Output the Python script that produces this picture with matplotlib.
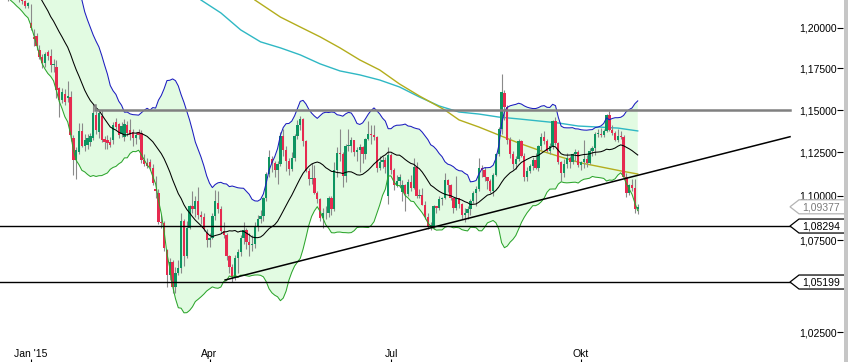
import numpy as np
import matplotlib
matplotlib.use('Agg')
import matplotlib.pyplot as plt
import matplotlib.transforms as mtransforms
from matplotlib.patches import Polygon, Rectangle
from matplotlib.ticker import NullLocator

plt.rcParams['font.family'] = ['Liberation Sans', 'DejaVu Sans']

# trading-day index of first row (Nov 20 2014), Jan 1 2015 = 0
first_index = -30

opens = [
    # Nov 2014 (20-28)
    1.2540, 1.2545, 1.2390, 1.2440, 1.2475, 1.2505, 1.2470,
    # Dec 2014
    1.2450, 1.2470, 1.2380, 1.2310, 1.2380, 1.2290, 1.2300, 1.2380, 1.2440, 1.2420, 1.2460, 1.2440,
    1.2500, 1.2340, 1.2290, 1.2230, 1.2225, 1.2200, 1.2210, 1.2215, 1.2190, 1.2175, 1.2165,
    # Jan
    1.2135, 1.2030, 1.1945, 1.1950, 1.1863, 1.1822, 1.1784, 1.1851, 1.1827, 1.1772, 1.1760, 1.1632,
    1.1560, 1.1595, 1.1572, 1.1578, 1.1335, 1.1206, 1.1253, 1.1376, 1.1290, 1.1294,
    # Feb
    1.1310, 1.1335, 1.1470, 1.1370, 1.1465, 1.1328, 1.1323, 1.1311, 1.1323, 1.1429, 1.1417, 1.1358,
    1.1340, 1.1411, 1.1382, 1.1370, 1.1335, 1.1370, 1.1364, 1.1206,
    # Mar
    1.1190, 1.1195, 1.1160, 1.1040, 1.1016, 1.0850, 1.0846, 1.0696, 1.0560, 1.0630, 1.0495, 1.0570,
    1.0595, 1.0860, 1.0660, 1.0820, 1.0940, 1.0925, 1.0970, 1.0890, 1.0878, 1.0790,
    # Apr
    1.0752, 1.0765, 1.0885, 1.0960, 1.0925, 1.0800, 1.0780, 1.0660, 1.0600, 1.0545, 1.0650, 1.0685,
    1.0765, 1.0805, 1.0740, 1.0725, 1.0730, 1.0825, 1.0870, 1.0885, 1.0985, 1.1125,
    # May
    1.1210, 1.1190, 1.1146, 1.1185, 1.1345, 1.1265, 1.1200, 1.1155, 1.1215, 1.1345, 1.1410, 1.1445,
    1.1315, 1.1145, 1.1095, 1.1100, 1.1015, 1.0980, 1.0875, 1.0900, 1.0905,
    # Jun
    1.0985, 1.0925, 1.1150, 1.1245, 1.1240, 1.1115, 1.1290, 1.1290, 1.1320, 1.1255, 1.1265, 1.1280,
    1.1240, 1.1330, 1.1360, 1.1350, 1.1340, 1.1160, 1.1195, 1.1205, 1.1000, 1.1235,
    # Jul
    1.1150, 1.1060, 1.1085, 1.1020, 1.1060, 1.1010, 1.1080, 1.1045, 1.1165, 1.1000, 1.1005, 1.0950,
    1.0880, 1.0830, 1.0830, 1.0940, 1.0930, 1.0980, 1.0985, 1.1090, 1.1060, 1.0985, 1.0930,
    # Aug
    1.0985, 1.0955, 1.0890, 1.0905, 1.0925, 1.0970, 1.1015, 1.1040, 1.1160, 1.1150, 1.1105, 1.1085,
    1.1025, 1.1120, 1.1240, 1.1385, 1.1600, 1.1520, 1.1320, 1.1240, 1.1185,
    # Sep
    1.1210, 1.1315, 1.1230, 1.1110, 1.1145, 1.1170, 1.1205, 1.1160, 1.1285, 1.1340, 1.1315, 1.1260,
    1.1290, 1.1435, 1.1305, 1.1195, 1.1130, 1.1185, 1.1215, 1.1195, 1.1240, 1.1255,
    # Oct
    1.1175, 1.1195, 1.1210, 1.1190, 1.1260, 1.1275, 1.1360, 1.1360, 1.1355, 1.1375, 1.1470, 1.1380,
    1.1365, 1.1325, 1.1345, 1.1340, 1.1110, 1.1015, 1.1060, 1.1045, 1.0925,
]
highs = [
    1.2600, 1.2575, 1.2450, 1.2490, 1.2530, 1.2515, 1.2490,
    1.2500, 1.2475, 1.2390, 1.2455, 1.2385, 1.2320, 1.2410, 1.2455, 1.2460, 1.2475, 1.2470, 1.2570,
    1.2520, 1.2345, 1.2300, 1.2260, 1.2240, 1.2225, 1.2225, 1.2230, 1.2215, 1.2195, 1.2175,
    1.2160, 1.2150, 1.1990, 1.1970, 1.1895, 1.1840, 1.1850, 1.1865, 1.1870, 1.1810, 1.1800, 1.1640,
    1.1630, 1.1625, 1.1675, 1.1615, 1.1350, 1.1280, 1.1423, 1.1420, 1.1360, 1.1360,
    1.1365, 1.1535, 1.1495, 1.1495, 1.1498, 1.1345, 1.1350, 1.1340, 1.1430, 1.1450, 1.1425, 1.1430,
    1.1445, 1.1435, 1.1445, 1.1385, 1.1370, 1.1390, 1.1380, 1.1240,
    1.1215, 1.1210, 1.1180, 1.1115, 1.1040, 1.0890, 1.0860, 1.0700, 1.0650, 1.0640, 1.0600, 1.0640,
    1.0905, 1.0870, 1.0860, 1.0950, 1.1030, 1.1000, 1.1050, 1.0915, 1.0900, 1.0810,
    1.0790, 1.0900, 1.1035, 1.1030, 1.0940, 1.0850, 1.0790, 1.0670, 1.0620, 1.0670, 1.0700, 1.0780,
    1.0850, 1.0820, 1.0790, 1.0780, 1.0850, 1.0890, 1.0920, 1.0995, 1.1135, 1.1265,
    1.1230, 1.1200, 1.1200, 1.1370, 1.1390, 1.1290, 1.1215, 1.1250, 1.1360, 1.1440, 1.1467, 1.1450,
    1.1320, 1.1160, 1.1190, 1.1175, 1.1025, 1.0990, 1.0930, 1.0940, 1.1000,
    1.1000, 1.1195, 1.1280, 1.1385, 1.1250, 1.1300, 1.1385, 1.1340, 1.1325, 1.1280, 1.1300, 1.1290,
    1.1335, 1.1435, 1.1410, 1.1410, 1.1345, 1.1230, 1.1230, 1.1225, 1.1280, 1.1245,
    1.1160, 1.1120, 1.1125, 1.1090, 1.1070, 1.1095, 1.1120, 1.1215, 1.1195, 1.1040, 1.1045, 1.0970,
    1.0905, 1.0850, 1.0950, 1.0945, 1.1000, 1.0995, 1.1130, 1.1095, 1.1070, 1.0990, 1.1115,
    1.0990, 1.0960, 1.0930, 1.0940, 1.0980, 1.1030, 1.1055, 1.1215, 1.1175, 1.1165, 1.1110, 1.1095,
    1.1130, 1.1245, 1.1400, 1.1714, 1.1620, 1.1530, 1.1340, 1.1260, 1.1230,
    1.1330, 1.1320, 1.1245, 1.1165, 1.1180, 1.1225, 1.1245, 1.1295, 1.1365, 1.1375, 1.1330, 1.1305,
    1.1440, 1.1460, 1.1310, 1.1200, 1.1210, 1.1245, 1.1230, 1.1245, 1.1270, 1.1265,
    1.1200, 1.1320, 1.1235, 1.1275, 1.1290, 1.1370, 1.1385, 1.1395, 1.1385, 1.1475, 1.1495, 1.1410,
    1.1375, 1.1385, 1.1375, 1.1355, 1.1130, 1.1070, 1.1095, 1.1095, 1.0955,
]
lows = [
    1.2505, 1.2360, 1.2375, 1.2410, 1.2460, 1.2440, 1.2435,
    1.2435, 1.2370, 1.2290, 1.2280, 1.2270, 1.2245, 1.2285, 1.2360, 1.2390, 1.2400, 1.2420, 1.2430,
    1.2330, 1.2270, 1.2220, 1.2215, 1.2165, 1.2185, 1.2200, 1.2180, 1.2160, 1.2150, 1.2125,
    1.2125, 1.1985, 1.1890, 1.1860, 1.1810, 1.1755, 1.1760, 1.1800, 1.1730, 1.1730, 1.1570, 1.1460,
    1.1540, 1.1530, 1.1545, 1.1315, 1.1120, 1.1098, 1.1240, 1.1280, 1.1260, 1.1270,
    1.1290, 1.1320, 1.1360, 1.1335, 1.1310, 1.1270, 1.1270, 1.1280, 1.1300, 1.1385, 1.1335, 1.1340,
    1.1315, 1.1345, 1.1320, 1.1288, 1.1300, 1.1330, 1.1190, 1.1170,
    1.1160, 1.1150, 1.1060, 1.0990, 1.0838, 1.0820, 1.0690, 1.0495, 1.0530, 1.0460, 1.0458, 1.0560,
    1.0570, 1.0610, 1.0650, 1.0810, 1.0900, 1.0880, 1.0870, 1.0840, 1.0800, 1.0710,
    1.0715, 1.0755, 1.0865, 1.0900, 1.0790, 1.0760, 1.0640, 1.0570, 1.0520, 1.0530, 1.0570, 1.0660,
    1.0730, 1.0700, 1.0660, 1.0690, 1.0705, 1.0800, 1.0845, 1.0860, 1.0970, 1.1105,
    1.1135, 1.1110, 1.1065, 1.1170, 1.1230, 1.1140, 1.1120, 1.1140, 1.1200, 1.1330, 1.1380, 1.1290,
    1.1135, 1.1060, 1.1070, 1.1010, 1.0960, 1.0860, 1.0820, 1.0870, 1.0880,
    1.0890, 1.0915, 1.1110, 1.1200, 1.1050, 1.1080, 1.1260, 1.1250, 1.1230, 1.1200, 1.1135, 1.1190,
    1.1210, 1.1320, 1.1300, 1.1320, 1.1135, 1.1150, 1.1160, 1.1130, 1.0955, 1.1125,
    1.1035, 1.1050, 1.1050, 1.0970, 1.0915, 1.1000, 1.1030, 1.1040, 1.0990, 1.0990, 1.0950, 1.0870,
    1.0810, 1.0805, 1.0810, 1.0900, 1.0920, 1.0950, 1.0980, 1.1020, 1.0975, 1.0905, 1.0920,
    1.0930, 1.0870, 1.0850, 1.0870, 1.0890, 1.0960, 1.0945, 1.1030, 1.1110, 1.1085, 1.1040, 1.1015,
    1.1000, 1.1115, 1.1230, 1.1360, 1.1440, 1.1300, 1.1220, 1.1155, 1.1155,
    1.1200, 1.1225, 1.1085, 1.1085, 1.1130, 1.1150, 1.1155, 1.1140, 1.1265, 1.1300, 1.1255, 1.1240,
    1.1270, 1.1295, 1.1180, 1.1085, 1.1110, 1.1160, 1.1160, 1.1185, 1.1200, 1.1165,
    1.1150, 1.1160, 1.1165, 1.1180, 1.1230, 1.1235, 1.1340, 1.1340, 1.1340, 1.1370, 1.1375, 1.1355,
    1.1315, 1.1310, 1.1330, 1.1105, 1.0995, 1.1005, 1.1025, 1.0900, 1.0895,
]
closes = [
    1.2545, 1.2390, 1.2440, 1.2475, 1.2505, 1.2470, 1.2450,
    1.2470, 1.2380, 1.2310, 1.2380, 1.2290, 1.2300, 1.2380, 1.2440, 1.2420, 1.2460, 1.2440, 1.2500,
    1.2340, 1.2290, 1.2230, 1.2225, 1.2200, 1.2210, 1.2215, 1.2190, 1.2175, 1.2165, 1.2135,
    1.2155, 1.2000, 1.1930, 1.1888, 1.1822, 1.1784, 1.1839, 1.1827, 1.1772, 1.1780, 1.1620, 1.1560,
    1.1610, 1.1545, 1.1586, 1.1352, 1.1206, 1.1264, 1.1376, 1.1290, 1.1320, 1.1335,
    1.1346, 1.1482, 1.1382, 1.1482, 1.1323, 1.1312, 1.1305, 1.1294, 1.1411, 1.1399, 1.1352, 1.1405,
    1.1417, 1.1364, 1.1352, 1.1335, 1.1352, 1.1355, 1.1206, 1.1180,
    1.1172, 1.1165, 1.1073, 1.1028, 1.0850, 1.0845, 1.0705, 1.0560, 1.0630, 1.0495, 1.0570, 1.0595,
    1.0860, 1.0660, 1.0820, 1.0940, 1.0925, 1.0970, 1.0890, 1.0878, 1.0810, 1.0752,
    1.0765, 1.0885, 1.0970, 1.0925, 1.0800, 1.0780, 1.0660, 1.0600, 1.0545, 1.0650, 1.0685, 1.0765,
    1.0805, 1.0740, 1.0725, 1.0730, 1.0825, 1.0870, 1.0885, 1.0985, 1.1125, 1.1225,
    1.1190, 1.1146, 1.1185, 1.1345, 1.1265, 1.1200, 1.1155, 1.1215, 1.1345, 1.1410, 1.1445, 1.1315,
    1.1145, 1.1095, 1.1100, 1.1015, 1.0980, 1.0875, 1.0900, 1.0905, 1.0985,
    1.0925, 1.1150, 1.1245, 1.1240, 1.1115, 1.1290, 1.1290, 1.1320, 1.1255, 1.1265, 1.1280, 1.1240,
    1.1330, 1.1360, 1.1350, 1.1340, 1.1160, 1.1195, 1.1205, 1.1165, 1.1235, 1.1150,
    1.1060, 1.1085, 1.1110, 1.1060, 1.1010, 1.1080, 1.1045, 1.1165, 1.1000, 1.1005, 1.0950, 1.0880,
    1.0830, 1.0830, 1.0940, 1.0930, 1.0980, 1.0985, 1.1090, 1.1060, 1.0985, 1.0930, 1.0985,
    1.0955, 1.0890, 1.0905, 1.0925, 1.0970, 1.1015, 1.1040, 1.1160, 1.1150, 1.1105, 1.1085, 1.1025,
    1.1120, 1.1240, 1.1385, 1.1610, 1.1520, 1.1320, 1.1240, 1.1185, 1.1210,
    1.1315, 1.1230, 1.1110, 1.1145, 1.1170, 1.1205, 1.1160, 1.1285, 1.1340, 1.1315, 1.1260, 1.1290,
    1.1435, 1.1305, 1.1195, 1.1130, 1.1185, 1.1215, 1.1195, 1.1240, 1.1255, 1.1175,
    1.1195, 1.1210, 1.1190, 1.1260, 1.1275, 1.1360, 1.1360, 1.1355, 1.1375, 1.1470, 1.1380, 1.1365,
    1.1325, 1.1345, 1.1340, 1.1110, 1.1015, 1.1060, 1.1045, 1.0925, 1.09377,
]

# long moving averages (trading-day index, price)
ma_cyan_idx = [61, 68, 75, 82, 89, 96, 103, 110, 117, 124, 131, 138, 145, 152, 159, 166, 173, 180,
               187, 194, 201, 208, 215]
ma_cyan_val = [1.2174, 1.2093, 1.1987, 1.1913, 1.1876, 1.1833, 1.1778, 1.1735, 1.1711, 1.1680,
               1.1638, 1.1578, 1.1524, 1.1488, 1.1476, 1.1458, 1.1447, 1.1435, 1.1423, 1.1405,
               1.1399, 1.1393, 1.1376]
ma_olive_idx = [80, 89, 96, 103, 110, 117, 124, 131, 138, 147, 152, 159, 166, 173, 180, 188, 195,
                202, 209, 215]
ma_olive_val = [1.2174, 1.2067, 1.2005, 1.1944, 1.1876, 1.1802, 1.1741, 1.1656, 1.1584, 1.1500,
                1.1441, 1.1399, 1.1352, 1.1305, 1.1264, 1.1223, 1.1189, 1.1166, 1.1143, 1.1125]

month_ticks = [1, 64, 128, 195]
month_labels = ["Jan '15", "Apr", "Jul", "Okt"]
ytick_vals = [1.025, 1.075, 1.100, 1.125, 1.150, 1.175, 1.200]
support_levels = [1.08294, 1.05199]
resistance = 1.15
resistance_start = 23.5
trend_x = [69.5, 268.7]
trend_y = [1.0531, 1.1342]
bb_period = 20

W, H = 848, 362
fig = plt.figure(figsize=(W / 100, H / 100), dpi=100)
fig.patch.set_facecolor('white')
ax = fig.add_axes([0, 0, 843 / W, 1])
ax.set_facecolor('white')
for s in ax.spines.values():
    s.set_visible(False)
ax.set_yscale('log')

o = np.array(opens)
h = np.array(highs)
l = np.array(lows)
c = np.array(closes)
x = np.arange(len(c)) + first_index

# Bollinger bands (20, 2)
mid = np.full(len(c), np.nan)
sd = np.full(len(c), np.nan)
for i in range(bb_period - 1, len(c)):
    w = c[i - bb_period + 1:i + 1]
    mid[i] = w.mean()
    sd[i] = w.std()
upper = mid + 2 * sd
lower = mid - 2 * sd
v = ~np.isnan(mid)

ax.fill_between(x[v], lower[v], upper[v], color='#e2fbe2', lw=0, zorder=1)

# long MAs
ax.plot(ma_cyan_idx, ma_cyan_val, color='#2fb8c4', lw=1.0, zorder=2)
ax.plot(ma_olive_idx, ma_olive_val, color='#b3ad1c', lw=1.0, zorder=2)

# candles
ax.vlines(x, l, h, colors='#8a8a8a', lw=0.8, zorder=3)
up = c >= o
body = np.maximum(np.abs(c - o), 0.0005)
bottom = np.minimum(o, c)
ax.bar(x[up], body[up], bottom=bottom[up], width=0.82, color='#0e9461', lw=0, zorder=3.5)
ax.bar(x[~up], body[~up], bottom=bottom[~up], width=0.82, color='#e62a50', lw=0, zorder=3.5)

# band lines
ax.plot(x[v], upper[v], color='#1c1cc0', lw=0.75, zorder=4)
ax.plot(x[v], lower[v], color='#2ca52c', lw=0.75, zorder=4)
ax.plot(x[v], mid[v], color='black', lw=0.75, zorder=4)

# horizontal levels and trend line
blend = mtransforms.blended_transform_factory(ax.transAxes, ax.transData)
line_end = 790 / 843
for lv in support_levels:
    ax.plot([0, line_end], [lv, lv], color='black', lw=1.0, transform=blend, zorder=4.5)
ax.plot([resistance_start, resistance_start, (843 * line_end - 28) / 2.836],
        [resistance * 1.0028, resistance, resistance], color='#808080', lw=1.8, zorder=4.5,
        solid_joinstyle='miter')
ax.plot(trend_x, trend_y, color='black', lw=1.1, zorder=4.5)

ax.set_xlim(-28 / 2.836, (843 - 28) / 2.836)
ax.set_ylim(1.00931, 1.21741)

# ticks
ax.set_xticks(month_ticks)
ax.set_xticklabels(month_labels)
ax.xaxis.set_minor_locator(NullLocator())
ax.tick_params(axis='x', direction='in', length=2, width=0.8, pad=-9.5, labelsize=7.5)
ax.yaxis.set_minor_locator(NullLocator())
ax.set_yticks(ytick_vals)
ax.set_yticklabels([f"{t:.5f}".replace('.', ',') for t in ytick_vals])
ax.yaxis.set_minor_locator(NullLocator())
ax.tick_params(axis='y', which='both', left=False, labelleft=False, right=True, labelright=True,
               direction='in', length=4, width=0.8, pad=-4.5, labelsize=7.5)
for t in ax.yaxis.get_major_ticks():
    t.label2.set_horizontalalignment('right')


def price_tag(price, edge, tcolor):
    tr = mtransforms.Affine2D() + mtransforms.ScaledTranslation(line_end, price, blend)
    verts = [(0, 0), (9, 7), (70, 7), (70, -7), (9, -7)]
    poly = Polygon(verts, closed=True, transform=tr, facecolor='white', edgecolor=edge,
                   lw=0.9, zorder=6, clip_on=False)
    ax.add_artist(poly)
    ax.text(line_end, price, f"{price:.5f}".replace('.', ','), fontsize=7.5, color=tcolor,
            ha='left', va='center', zorder=7, clip_on=False,
            transform=mtransforms.offset_copy(blend, fig=fig, x=12, y=-0.5, units='dots'))


price_tag(closes[-1], '#b4b4b4', '#7a7a7a')
for lv in support_levels:
    price_tag(lv, 'black', 'black')

fig.add_artist(Rectangle((844 / W, 0), 4 / W, 1, transform=fig.transFigure,
                         facecolor='#c6c6c6', edgecolor='none', zorder=20))

fig.savefig('out.png', dpi=100, facecolor='white')
